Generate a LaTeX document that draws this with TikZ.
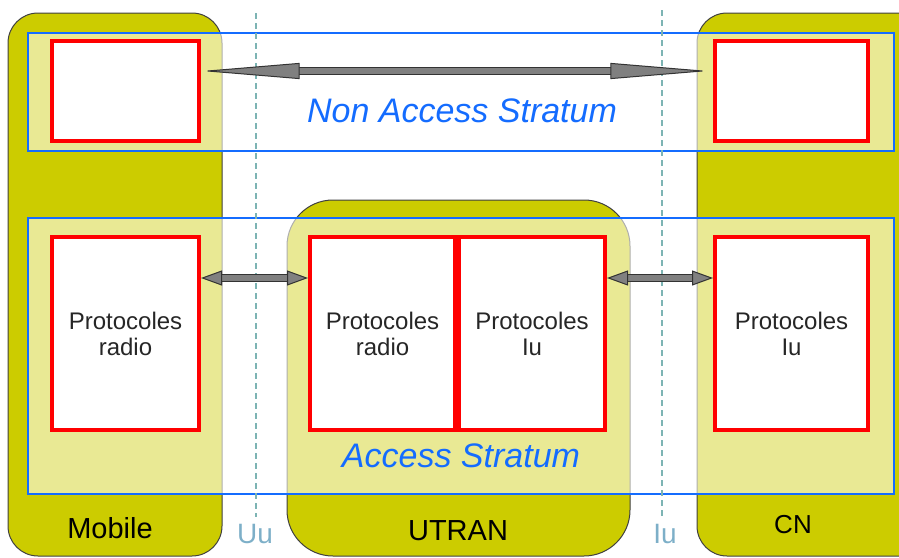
\documentclass[tikz,border=0pt]{standalone}
\usepackage{fontspec}
\setmainfont{Liberation Sans}
\usetikzlibrary{positioning,arrows.meta}

\definecolor{blockyellow}{RGB}{204,204,0}
\definecolor{strblue}{RGB}{20,108,255}
\definecolor{ifgray}{RGB}{125,180,180}
\definecolor{iflabel}{RGB}{125,175,200}

\begin{document}
\begin{tikzpicture}[x=0.5pt, y=-0.5pt,
    block/.style={draw=black!75, line width=0.5pt, fill=blockyellow},
    stratum/.style={draw=strblue, line width=1.3pt, fill=white, fill opacity=0.58},
    proto/.style={draw=red, line width=2pt, fill=white, inner sep=0pt, align=center,
        text=black!85, font=\fontsize{12}{13}\selectfont},
    lbl/.style={anchor=base, font=\fontsize{14.5}{17}\selectfont},
    iflbl/.style={anchor=base, text=iflabel, font=\fontsize{14}{17}\selectfont},
    strlbl/.style={text=strblue, font=\fontsize{17}{20}\selectfont\itshape},
    iface/.style={draw=ifgray, line width=0.8pt, dash pattern=on 3pt off 2pt},
    nasarrow/.style={draw=gray, line width=3.2pt,
        {Triangle[length=49pt,width=8pt,color=black!80,fill=gray,line width=0.5pt]}-{Triangle[length=49pt,width=8pt,color=black!80,fill=gray,line width=0.5pt]},
        preaction={draw=black!80, line width=4pt, arrows=-, shorten <=48pt, shorten >=48pt}},
    asarrow/.style={draw=gray, line width=3pt,
        {Triangle[length=10.5pt,width=7.5pt,color=black!80,fill=gray,line width=0.5pt]}-{Triangle[length=10.5pt,width=7.5pt,color=black!80,fill=gray,line width=0.5pt]},
        preaction={draw=black!80, line width=3.8pt, arrows=-, shorten <=10pt, shorten >=10pt}}]
    \clip (0,0) rectangle (899,557);
    % blocks
    \draw[block, rounded corners=15pt] (8,13) rectangle (222,556);
    \draw[block, rounded corners=23pt] (287,200) rectangle (630,556);
    \draw[block, rounded corners=15pt] (697,13) rectangle (930,556);
    % strata
    \draw[stratum] (28,33) rectangle (894,151);
    \draw[stratum] (28,218) rectangle (894,494);
    % protocol boxes
    \node[proto, minimum width=73.5pt, minimum height=50pt] at (125.5,91) (M1) {};
    \node[proto, minimum width=76.5pt, minimum height=50pt] at (791.5,91) (C1) {};
    \node[proto, minimum width=73.5pt, minimum height=96.5pt] at (125.5,333.5) (M2) {Protocoles\\radio};
    \node[proto, minimum width=72.5pt, minimum height=96.5pt] at (382.5,333.5) (U1) {Protocoles\\radio};
    \node[proto, minimum width=73pt, minimum height=96.5pt, right=0pt of U1] (U2) {Protocoles\\Iu};
    \node[proto, minimum width=76.5pt, minimum height=96.5pt] at (791.5,333.5) (C2) {Protocoles\\Iu};
    % labels
    \node[strlbl] at (462,111) (NAS) {Non Access Stratum};
    \node[strlbl] at (461,456) (AS) {Access Stratum};
    \node[lbl] at (110,538) (Mob) {Mobile};
    \node[lbl] at (458,540) (Utr) {UTRAN};
    \node[lbl, font=\fontsize{13}{15}\selectfont] at (793,533) (CN) {CN};
    \node[iflbl] at (255,543) (Uu) {Uu};
    \node[iflbl] at (665,543) (Iu) {Iu};
    % interfaces
    \draw[iface] (256,13) -- (Uu.north -| 256,0);
    \draw[iface] (662,10) -- (Iu.north -| 662,0);
    % arrows
    \draw[nasarrow] ([xshift=0.3pt,yshift=10pt]M1.east) -- ([xshift=-2.3pt,yshift=10pt]C1.west);
    \draw[asarrow] ([yshift=27.75pt]M2.east) -- ([yshift=27.75pt]U1.west);
    \draw[asarrow] ([yshift=27.75pt]U2.east) -- ([yshift=27.75pt]C2.west);
\end{tikzpicture}
\end{document}
